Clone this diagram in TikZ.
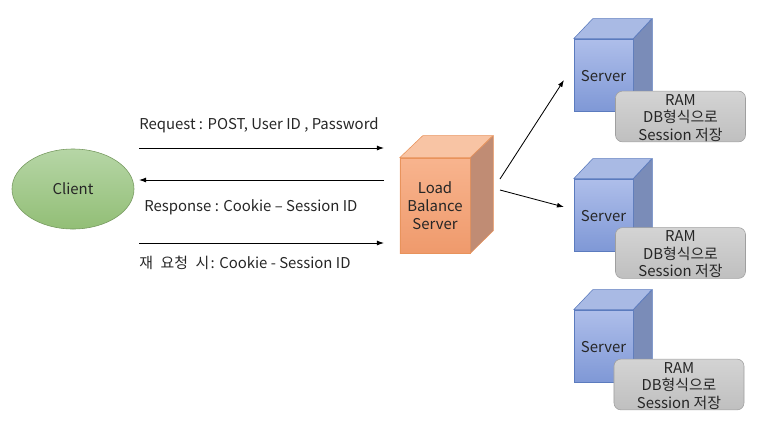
\documentclass[tikz,border=0pt]{standalone}
\usepackage{fontspec}
\setmainfont{Noto Sans CJK KR}
\usetikzlibrary{shapes.geometric}
\usetikzlibrary{arrows.meta}
\definecolor{srvline}{HTML}{5B7BBE}
\definecolor{lbline}{HTML}{E8935C}
\definecolor{srvtop}{HTML}{A9BAE4}
\definecolor{srvside}{HTML}{7A8CB8}
\definecolor{srvhi}{HTML}{AEBEEA}
\definecolor{srvlo}{HTML}{7F98D6}
\definecolor{lbtop}{HTML}{F8C4A4}
\definecolor{lbside}{HTML}{C08C74}
\definecolor{lbhi}{HTML}{F8B48E}
\definecolor{lblo}{HTML}{EF9A6C}
\definecolor{clienthi}{HTML}{B6D6A6}
\definecolor{clientlo}{HTML}{92BE76}
\tikzstyle{arrow} = [line width=0.6pt,-{Latex[length=5pt,width=3.5pt]}]
\newcommand{\srvfaces}[1]{
    \draw[srvline, fill=srvtop] (#1.north west) -- ++(19,-20) -- ++(59,0) -- (#1.north east) -- cycle;
    \draw[srvline, fill=srvside] (#1.north east) -- ++(19,-20) -- ++(0,72) -- (#1.south east) -- cycle;
}
\newcommand{\ramtext}{\rule{0pt}{9.5pt}RAM\\DB형식으로\\Session 저장}
\begin{document}
\begin{tikzpicture}[x=0.025cm, y=-0.025cm,
    txt/.style={font=\fontsize{10.6pt}{12pt}\selectfont, text=black!85, inner sep=0pt},
    srvnode/.style={rectangle, draw=srvline, top color=srvhi, bottom color=srvlo, minimum width=1.475cm, minimum height=1.8cm, inner sep=0pt, txt, text height=9.2pt},
    ramnode/.style={rectangle, rounded corners=5pt, draw=gray!75, top color=black!17, bottom color=black!25, minimum width=3.25cm, minimum height=1.27cm, inner sep=0pt, align=center, txt, font=\fontsize{10.6pt}{12.4pt}\selectfont}
]
    \useasboundingbox (0,0) rectangle (761,429);

    \node[ellipse, draw=clientlo!80!black, top color=clienthi, bottom color=clientlo, minimum width=3.05cm, minimum height=2cm, inner sep=0pt, txt] (client) at (73,189) {Client};

    \node[rectangle, draw=lbline, top color=lbhi, bottom color=lblo, minimum width=1.75cm, minimum height=2.375cm, inner sep=0pt, align=center, txt, font=\fontsize{10.6pt}{12.8pt}\selectfont] (lb) at (435,205.5) {Load\\Balance\\Server};
    \draw[lbline, fill=lbtop] (lb.north west) -- ++(23,-22) -- ++(70,0) -- (lb.north east) -- cycle;
    \draw[lbline, fill=lbside] (lb.north east) -- ++(23,-22) -- ++(0,95) -- (lb.south east) -- cycle;

    \node[srvnode] (srv1) at (603.5,75) {Server};
    \node[srvnode] (srv2) at (603.5,215) {Server};
    \node[srvnode] (srv3) at (603.5,346) {Server};
    \srvfaces{srv1}
    \srvfaces{srv2}
    \srvfaces{srv3}

    \node[ramnode] (ram1) at (680.5,116.5) {\ramtext};
    \node[ramnode] (ram2) at (680.5,253) {\ramtext};
    \node[ramnode] (ram3) at (679,384.5) {\ramtext};

    \coordinate (reqa) at (139,148);
    \coordinate (reqb) at (384,148);
    \coordinate (resa) at (384,180);
    \coordinate (resb) at (139,180);
    \coordinate (reta) at (139,243);
    \coordinate (retb) at (384,243);
    \draw[arrow] (reqa) -- (reqb);
    \draw[arrow] (resa) -- (resb);
    \draw[arrow] (reta) -- (retb);

    \coordinate (upa) at (500,179);
    \coordinate (upb) at (564,80);
    \coordinate (dna) at (500,190);
    \coordinate (dnb) at (564,207);
    \draw[arrow] (upa) -- (upb);
    \draw[arrow] (dna) -- (dnb);

    \node[txt, anchor=west] (reqtxt) at (139,125) {Request : POST, User ID , Password};
    \node[txt, anchor=west] (restxt) at (144,207) {Response : Cookie – Session ID};
    \node[txt, anchor=west] (rettxt) at (139,263) {재\hspace{3pt} 요청\hspace{3pt} 시\kern1pt: Cookie - Session ID};
\end{tikzpicture}
\end{document}
